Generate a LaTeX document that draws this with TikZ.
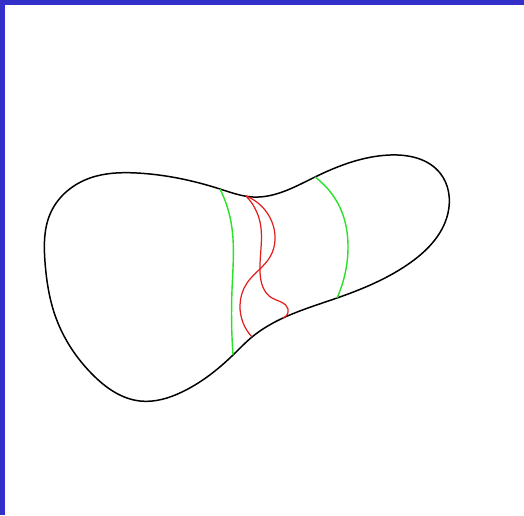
\documentclass[tikz,border=0pt]{standalone}
\usetikzlibrary{hobby}
\definecolor{frameblue}{RGB}{50,48,200}
\definecolor{cutgreen}{RGB}{40,225,40}
\definecolor{cutred}{RGB}{225,30,30}
\begin{document}
\begin{tikzpicture}[x=0.02cm, y=-0.02cm, use Hobby shortcut,
		surface/.style={line width=0.85pt, black},
		ring/.style={line width=0.8pt, cutgreen},
		wiggle/.style={line width=0.7pt, cutred}]
		\useasboundingbox (0,0) rectangle (524,515);
		
		% Frame
		\fill[frameblue] (0,0) rectangle (524,5);
		\fill[frameblue] (0,0) rectangle (5,515);
		
		% Where the curves meet the surface
		\coordinate (gl-top) at (220,189);
		\coordinate (gl-bot) at (233,355);
		\coordinate (gr-top) at (315,177);
		\coordinate (gr-bot) at (337,298);
		\coordinate (red-top) at (246,196);
		\coordinate (ra-bot) at (252,337);
		\coordinate (rb-bot) at (283,318);
		
		% Surface
		\draw[surface, closed=true] (45,262) .. (51,212) .. (90,178) .. (137,173)
			.. (gl-top) .. (253,197) .. (gr-top) .. (390,155) .. (440,173)
			.. (448,213) .. (407,265) .. (gr-bot) .. (rb-bot) .. (ra-bot)
			.. (gl-bot) .. (182,392) .. (140,401) .. (92,374) .. (56,318);
		
		% Green loops
		\draw[ring] (gl-top) .. (231,222) .. (232,290) .. (gl-bot);
		\draw[ring] (gr-top) .. (343,215) .. (348,248) .. (gr-bot);
		
		% Red curves
		\draw[wiggle] (red-top) .. (272,222) .. (270,257) .. (247,283)
			.. (240,305) .. (ra-bot);
		\draw[wiggle] (red-top) .. (260,222) .. (260,272) .. (272,298)
			.. (288,309) .. (rb-bot);
	\end{tikzpicture}
\end{document}
